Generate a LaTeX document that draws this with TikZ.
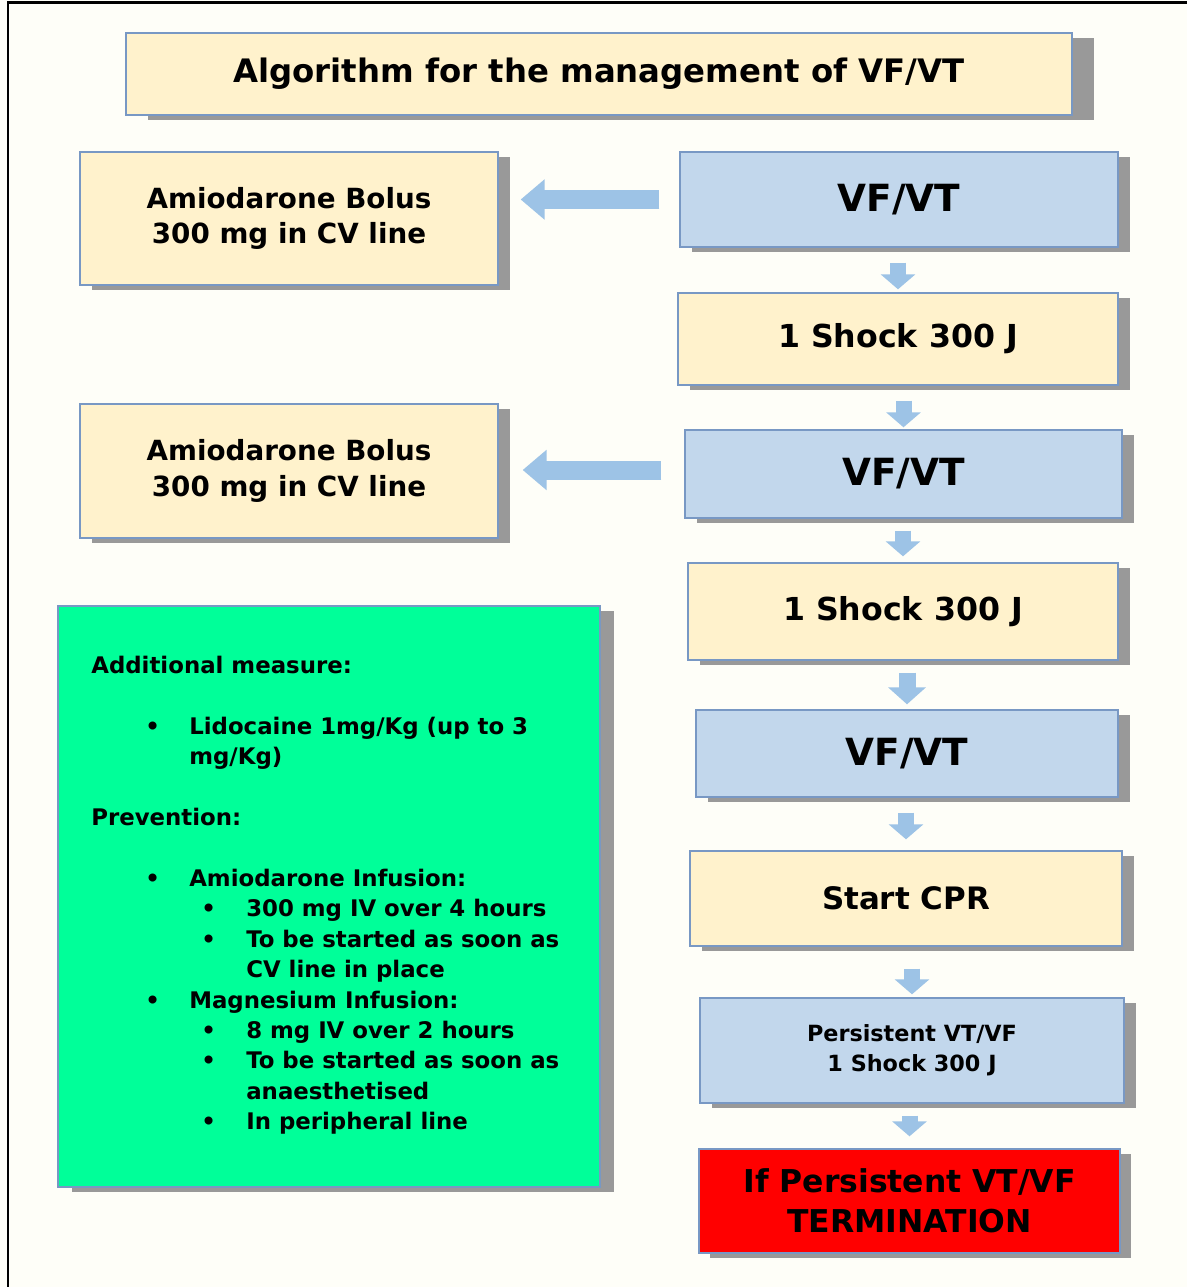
\documentclass[tikz,border=0pt]{standalone}
\usepackage{fontspec}
\setmainfont{DejaVu Sans}
\usetikzlibrary{arrows.meta}
\usetikzlibrary{shadows}
\definecolor{mbg}{RGB}{254,254,248}
\definecolor{myellow}{RGB}{255,242,204}
\definecolor{mblue}{RGB}{194,215,236}
\definecolor{mborder}{RGB}{120,152,196}
\definecolor{marrow}{RGB}{157,195,230}
\definecolor{mgreen}{RGB}{0,255,153}
\tikzset{box/.style = {draw=mborder, line width=0.8pt, align=center, inner sep=0}}
\tikzset{shad/.style = {drop shadow={shadow xshift=#1, shadow yshift=-0.1cm,
                                     fill=black!40, opacity=1}},
         shad/.default = 0.24cm}
\tikzset{ybox/.style = {box, shad, fill=myellow}}
\tikzset{bbox/.style = {box, shad, fill=mblue}}
\tikzset{darr/.style = {draw=marrow, line width=0.32cm,
                        -{Triangle[width=0.68cm, length=0.3cm]}}}
\tikzset{larr/.style = {draw=marrow, line width=0.38cm,
                        -{Triangle[width=0.78cm, length=0.48cm]}}}
\newcommand{\bfs}[2]{\bfseries\fontsize{#1}{#2}\selectfont}
\newcommand{\itA}[1]{\hspace*{1.08cm}\makebox[0.88cm][l]{\textbullet}#1}
\newcommand{\coA}[1]{\hspace*{1.96cm}#1}
\newcommand{\itB}[1]{\hspace*{2.2cm}\makebox[0.9cm][l]{\textbullet}#1}
\newcommand{\coB}[1]{\hspace*{3.1cm}#1}

\begin{document}
\begin{tikzpicture}[x=0.02cm, y=-0.02cm]
    \fill [mbg] (0, 0) rectangle (1187, 1287);
    \useasboundingbox (0, 0) rectangle (1187, 1287);
    \draw [line width=0.06cm] (8, 1287) -- (8, 3) -- (1187, 3);

    \node [box, shad=0.44cm, fill=myellow, minimum width=18.92cm, minimum height=1.64cm,
           font=\bfs{18.4}{22}] (title) at (599, 74) {Algorithm for the management of VF/VT};

    % right column
    \node [bbox, minimum width=8.76cm, minimum height=1.9cm, font=\bfs{21.3}{25}] (vf1) at (899, 199.5) {VF/VT};
    \node [ybox, minimum width=8.8cm, minimum height=1.84cm, font=\bfs{18}{21}] (shock1) at (898, 339) {1 Shock 300 J};
    \node [bbox, minimum width=8.74cm, minimum height=1.76cm, font=\bfs{21.3}{25}] (vf2) at (903.5, 474) {VF/VT};
    \node [ybox, minimum width=8.6cm, minimum height=1.94cm, font=\bfs{18}{21}] (shock2) at (903, 611.5) {1 Shock 300 J};
    \node [bbox, minimum width=8.44cm, minimum height=1.74cm, font=\bfs{21.3}{25}] (vf3) at (907, 753.5) {VF/VT};
    \node [ybox, minimum width=8.64cm, minimum height=1.9cm, font=\bfs{17.6}{21}] (cpr) at (906, 898.5) {Start CPR};
    \node [bbox, minimum width=8.48cm, minimum height=2.1cm, font=\bfs{12.7}{17}] (pers) at (912, 1050.5) {Persistent VT/VF\\1 Shock 300 J};
    \node [box, shad=0.22cm, fill=red, minimum width=8.42cm, minimum height=2.08cm,
           font=\bfs{17.9}{22.7}] (term) at (909.5, 1201) {If Persistent VT/VF\\TERMINATION};

    % left column
    \node [ybox, minimum width=8.36cm, minimum height=2.66cm, font=\bfs{15.8}{20.4}] (amio1) at (289, 218.5) {Amiodarone Bolus\\300 mg in CV line};
    \node [ybox, minimum width=8.36cm, minimum height=2.68cm, font=\bfs{15.8}{20.4}] (amio2) at (289, 471) {Amiodarone Bolus\\300 mg in CV line};
    \node [box, shad=0.28cm, fill=mgreen, minimum width=10.84cm, minimum height=11.62cm] (meas) at (329, 896.5) {};
    \node [anchor=north west, inner sep=0, align=left, font=\bfs{13}{17.3}] (list) at (91, 656) {%
        Additional measure:\\[17.3pt]
        \itA{Lidocaine 1mg/Kg (up to 3}\\
        \coA{mg/Kg)}\\[17.3pt]
        Prevention:\\[17.3pt]
        \itA{Amiodarone Infusion:}\\
        \itB{300 mg IV over 4 hours}\\
        \itB{To be started as soon as}\\
        \coB{CV line in place}\\
        \itA{Magnesium Infusion:}\\
        \itB{8 mg IV over 2 hours}\\
        \itB{To be started as soon as}\\
        \coB{anaesthetised}\\
        \itB{In peripheral line}};

    \foreach \a/\b/\s/\e in {vf1/shock1/0.3cm/0.06cm, shock1/vf2/0.3cm/0.04cm,
                             vf2/shock2/0.24cm/0.12cm, vf3/cpr/0.3cm/0.22cm,
                             cpr/pers/0.44cm/0.06cm, pers/term/0.24cm/0.24cm}
        \draw [darr, shorten <=\s, shorten >=\e] (\b.north |- \a.south) -- (\b.north);
    \draw [darr, line width=0.34cm, -{Triangle[width=0.74cm, length=0.34cm]},
           shorten <=0.24cm, shorten >=0.1cm] (vf3.north |- shock2.south) -- (vf3.north);

    \draw [larr, shorten <=0.4cm, shorten >=0.44cm] (vf1.west) -- (vf1.west -| amio1.east);
    \draw [larr, shorten <=0.46cm, shorten >=0.48cm] ([yshift=0.08cm]vf2.west) -- ([yshift=0.08cm]vf2.west -| amio2.east);
\end{tikzpicture}
\end{document}
